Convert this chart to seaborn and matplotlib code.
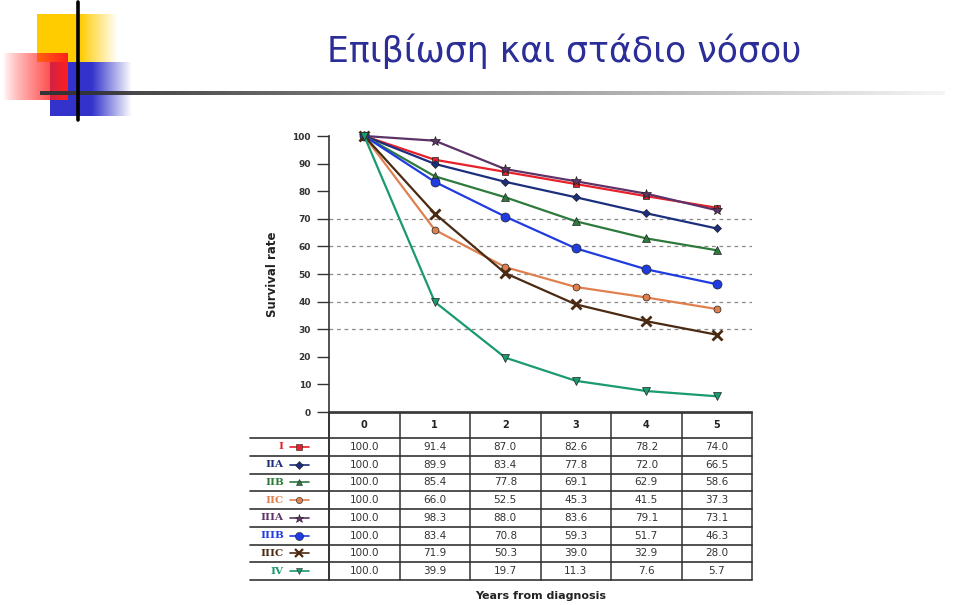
import numpy as np
import pandas as pd
import matplotlib
matplotlib.use("Agg")
import matplotlib.pyplot as plt
import seaborn as sns

# data
years = [0, 1, 2, 3, 4, 5]
stages = ["I", "IIA", "IIB", "IIC", "IIIA", "IIIB", "IIIC", "IV"]
surv_I = [100.0, 91.4, 87.0, 82.6, 78.2, 74.0]
surv_IIA = [100.0, 89.9, 83.4, 77.8, 72.0, 66.5]
surv_IIB = [100.0, 85.4, 77.8, 69.1, 62.9, 58.6]
surv_IIC = [100.0, 66.0, 52.5, 45.3, 41.5, 37.3]
surv_IIIA = [100.0, 98.3, 88.0, 83.6, 79.1, 73.1]
surv_IIIB = [100.0, 83.4, 70.8, 59.3, 51.7, 46.3]
surv_IIIC = [100.0, 71.9, 50.3, 39.0, 32.9, 28.0]
surv_IV = [100.0, 39.9, 19.7, 11.3, 7.6, 5.7]
yticks = [0, 10, 20, 30, 40, 50, 60, 70, 80, 90, 100]
grid_levels = [30, 40, 50, 60, 70]

series = [surv_I, surv_IIA, surv_IIB, surv_IIC, surv_IIIA, surv_IIIB, surv_IIIC, surv_IV]
colors = ["#e8202a", "#1c2f7e", "#2e7a3c", "#e0804f", "#5e3468", "#1f3ce0", "#4a2a12", "#1a9a6e"]
markers = ["s", "D", "^", "o", "*", "o", "x", "v"]
msizes = [4.5, 4, 5.5, 5, 7, 6.5, 7, 5.5]
mews = [0.5, 0.5, 0.5, 0.5, 0.5, 0.5, 2.0, 0.5]

df = pd.DataFrame({
    "year": years * len(stages),
    "stage": np.repeat(stages, len(years)),
    "survival": np.concatenate(series),
})

sns.set_style("white")
plt.rcParams["font.family"] = ["DejaVu Sans"]

W, H = 960, 605
fig = plt.figure(figsize=(W / 100, H / 100), dpi=100)

# slide decoration
deco = fig.add_axes([0, 0, 1, 1])
deco.set_xlim(0, W)
deco.set_ylim(H, 0)
deco.axis("off")


def grad(ax, extent, rgb, x_solid, z, reverse=False):
    x0, x1, y0, y1 = extent
    n = 200
    xs = np.linspace(x0, x1, n)
    if reverse:
        a = np.clip((xs - x0) / (x1 - x0), 0, 1) ** 0.8
    else:
        a = np.clip(1 - (xs - x_solid) / (x1 - x_solid), 0, 1)
    img = np.ones((2, n, 4))
    img[..., :3] = rgb
    img[..., 3] = a
    ax.imshow(img, extent=(x0, x1, y1, y0), aspect="auto", zorder=z, interpolation="bilinear")


grad(deco, (37, 118, 14, 62), (1.0, 0.80, 0.0), 80, 1)
grad(deco, (50, 132, 62, 116), (0.2, 0.2, 0.8), 92, 2)
grad(deco, (3, 68, 53, 100), (1.0, 0.12, 0.12), 0, 3, reverse=True)
n = 300
line_img = np.ones((2, n, 4))
line_img[..., :3] = 0.2
line_img[..., 3] = np.linspace(1, 0.05, n)
deco.imshow(line_img, extent=(40, 945, 95, 91), aspect="auto", zorder=4)
deco.plot([78, 78], [2, 120], color="black", lw=2.6, zorder=5)
deco.set_xlim(0, W)
deco.set_ylim(H, 0)

fig.text(327 / W, 1 - 62 / H, "Επιβίωση και στάδιο νόσου", fontsize=25,
         color="#2b2e96", va="baseline", ha="left", family="DejaVu Sans")

# main chart
x_left, x_right = 329, 752
y_zero, y_top = 412, 136
ax = fig.add_axes([x_left / W, 1 - y_zero / H, (x_right - x_left) / W, (y_zero - y_top) / H])
for lvl in grid_levels:
    ax.axhline(lvl, color="#8a8a8a", lw=0.9, ls=(0, (3, 3)), zorder=0)
for i, st in enumerate(stages):
    sub = df[df["stage"] == st]
    sns.lineplot(data=sub, x="year", y="survival", ax=ax, color=colors[i], lw=1.6,
                 marker=markers[i], markersize=msizes[i],
                 markeredgecolor=colors[i] if markers[i] == "x" else "#222222",
                 markeredgewidth=mews[i], clip_on=False, zorder=3 + i)
ax.set_xlim(-0.5, 5.5)
ax.set_ylim(0, 100)
ax.set_yticks(yticks)
ax.set_yticklabels([str(v) for v in yticks], fontsize=6.5, fontweight="bold", color="#333333")
ax.tick_params(axis="y", length=9, width=1, color="#333333", pad=4, left=True)
ax.set_xticks([])
ax.set_xlabel("")
ax.set_ylabel("Survival rate", fontsize=8.5, fontweight="bold", color="#222222", labelpad=10)
for s in ["top", "right"]:
    ax.spines[s].set_visible(False)
ax.spines["left"].set_color("#333333")
ax.spines["bottom"].set_color("#333333")
ax.spines["left"].set_linewidth(1.2)
ax.spines["bottom"].set_linewidth(1.2)
ax.set_facecolor("none")

# data table under the chart
t_left, t_top, t_bot = 250, 413, 580
hdr_h = 25
row_h = (t_bot - t_top - hdr_h) / len(stages)
tab = fig.add_axes([t_left / W, 1 - t_bot / H, (x_right - t_left) / W, (t_bot - t_top) / H])
unit = (x_right - x_left) / 6
x_lab = -0.5 - (x_left - t_left) / unit
tab.set_xlim(x_lab, 5.5)
tab.set_ylim(t_bot - t_top, 0)
tab.axis("off")
lc = "#333333"
tab.plot([-0.5, 5.5], [0, 0], color=lc, lw=1.2, clip_on=False)
for r in range(len(stages) + 1):
    y = hdr_h + r * row_h
    tab.plot([x_lab, 5.5], [y, y], color=lc, lw=1.2, clip_on=False)
for c in range(7):
    tab.plot([c - 0.5, c - 0.5], [0, t_bot - t_top], color=lc, lw=1.4 if c == 0 else 1.1, clip_on=False)
for c, yr in enumerate(years):
    tab.text(yr, hdr_h / 2, str(yr), ha="center", va="center", fontsize=7, fontweight="bold", color="#222222")
for r, st in enumerate(stages):
    yc = hdr_h + (r + 0.5) * row_h
    for c, v in enumerate(series[r]):
        tab.text(years[c], yc, f"{v:.1f}", ha="center", va="center", fontsize=7.5, color="#333333")
    tab.text(-1.14, yc, st, ha="right", va="center", fontsize=7.5, fontweight="bold",
             color=colors[r], family="DejaVu Serif")
    tab.plot([-1.06, -0.78], [yc, yc], color=colors[r], lw=1.2, clip_on=False)
    tab.plot([-0.92], [yc], marker=markers[r], color=colors[r], markersize=msizes[r] * 0.9,
             markeredgecolor=colors[r] if markers[r] == "x" else "#222222",
             markeredgewidth=mews[r] * 0.8, clip_on=False)

fig.text((x_left + x_right) / 2 / W, 1 - 596 / H, "Years from diagnosis", ha="center", va="center",
         fontsize=8, fontweight="bold", color="#222222")

fig.savefig("out.png", dpi=100, facecolor="white")
